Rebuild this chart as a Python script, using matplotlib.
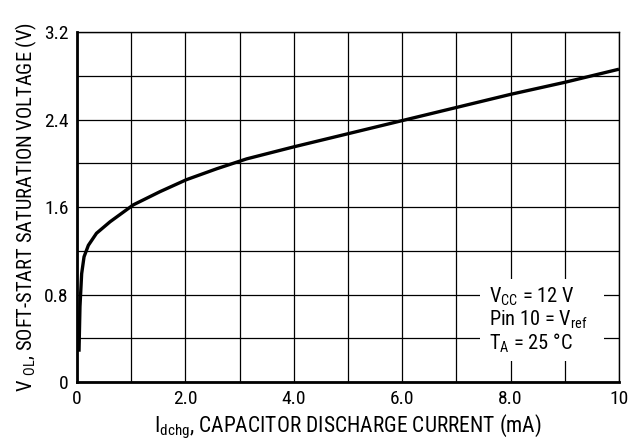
import matplotlib
matplotlib.use("Agg")
import matplotlib.pyplot as plt
from matplotlib.patches import Rectangle
from matplotlib.ticker import MultipleLocator, FixedLocator, FixedFormatter

plt.rcParams['font.family'] = ['Roboto Condensed', 'DejaVu Sans']
plt.rcParams['mathtext.fontset'] = 'custom'
plt.rcParams['mathtext.rm'] = 'Roboto Condensed'
plt.rcParams['mathtext.it'] = 'Roboto Condensed'

# values
i_dchg = [0.037, 0.055, 0.086, 0.13, 0.21, 0.36, 0.61, 1.04, 1.53, 2.02,
          2.58, 3.13, 4.0, 5.0, 6.0, 7.0, 8.0, 9.0, 10.0]
v_ol = [0.277, 0.69, 0.99, 1.145, 1.25, 1.36, 1.465, 1.62, 1.74, 1.85,
        1.95, 2.04, 2.15, 2.27, 2.39, 2.51, 2.63, 2.74, 2.86]

x_ticks = [0, 2, 4, 6, 8, 10]
x_labels = ['0', '2.0', '4.0', '6.0', '8.0', '10']
y_ticks = [0, 0.8, 1.6, 2.4, 3.2]
y_labels = ['0', '0.8', '1.6', '2.4', '3.2']

conditions = ['V$_{\\mathregular{CC}}$ = 12 V',
              'Pin 10 = V$_{\\mathregular{ref}}$',
              'T$_{\\mathregular{A}}$ = 25 \u00b0C']

fig = plt.figure(figsize=(6.29, 4.42), dpi=100)
ax = fig.add_axes([0.1224, 0.1357, 0.8617, 0.7919])

ax.plot(i_dchg, v_ol, color='black', lw=2.4, solid_capstyle='butt',
        solid_joinstyle='round', zorder=4)

ax.set_xlim(0, 10)
ax.set_ylim(0, 3.2)
ax.xaxis.set_major_locator(FixedLocator(x_ticks))
ax.xaxis.set_major_formatter(FixedFormatter(x_labels))
ax.yaxis.set_major_locator(FixedLocator(y_ticks))
ax.yaxis.set_major_formatter(FixedFormatter(y_labels))
ax.xaxis.set_minor_locator(MultipleLocator(1))
ax.yaxis.set_minor_locator(MultipleLocator(0.4))
ax.grid(which='both', color='black', lw=0.9)
ax.set_axisbelow(True)
ax.tick_params(which='both', length=0, labelsize=14, pad=6)

for side in ['left', 'bottom']:
    ax.spines[side].set_linewidth(2.0)
for side in ['top', 'right']:
    ax.spines[side].set_linewidth(1.0)

ax.set_xlabel('I$_{\\mathregular{dchg}}$, CAPACITOR DISCHARGE CURRENT (mA)', fontsize=15.5, labelpad=3)
ax.set_ylabel('V $_{\\mathregular{OL}}$, SOFT-START SATURATION VOLTAGE (V)', fontsize=14.8, labelpad=4)

ax.add_patch(Rectangle((0.7435, 0.06), 0.2285, 0.234, transform=ax.transAxes,
                       facecolor='white', edgecolor='none', zorder=3))
for k, line in enumerate(conditions):
    ax.text(0.760, 0.243 - k * 0.066, line, transform=ax.transAxes,
            fontsize=14.7, va='center', ha='left', zorder=5)

fig.savefig('out.png', dpi=100)
